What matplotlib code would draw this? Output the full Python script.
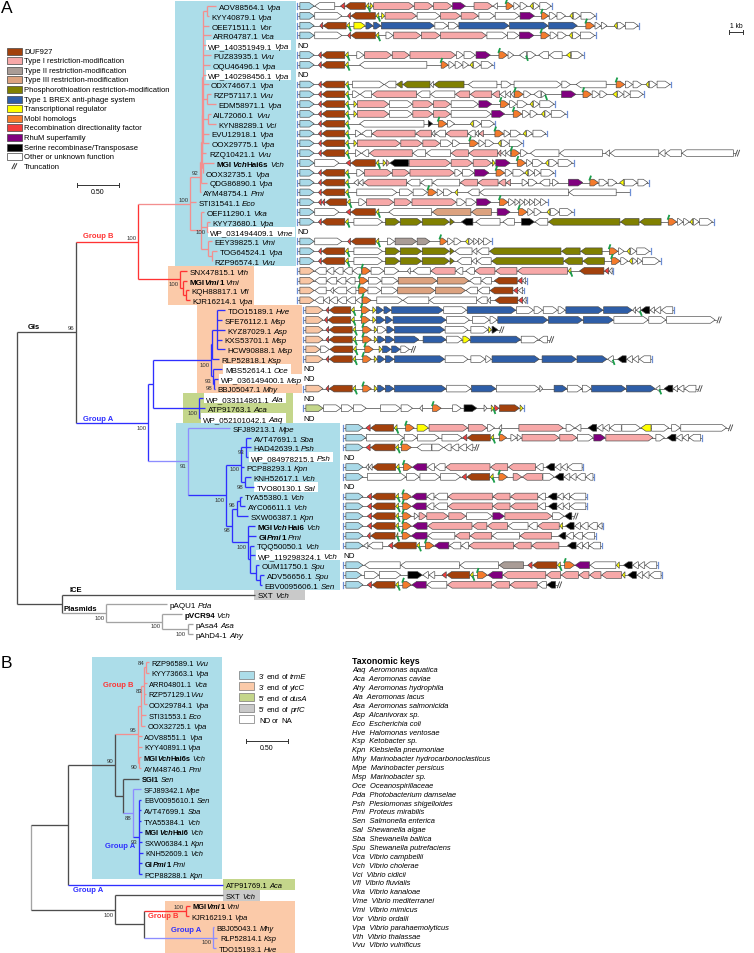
import matplotlib
matplotlib.use("Agg")
import matplotlib.pyplot as plt
from matplotlib.patches import Polygon, Rectangle
from matplotlib.transforms import offset_copy

W, H, DPI = 754, 954, 100
plt.rcParams['font.family'] = ['Liberation Sans', 'DejaVu Sans']

# ---------------------------------------------------------------- data
def N(bl, kids, bs=None, col=None, pos='b'):
    return {'bl': bl, 'kids': kids, 'bs': bs, 'col': col, 'pos': pos}

def L(i, bl, col=None):
    return {'bl': bl, 'leaf': i, 'col': col}

# Panel A tip labels ({} italic, <> bold)
A_LABELS = [
    "AOV88564.1 {Vpa}", "KYY40879.1 {Vpa}", "OEE71511.1 {Vor}", "ARR04787.1 {Vca}",
    "WP_140351949.1 {Vpa}", "PUZ83935.1 {Vvu}", "OQU46496.1 {Vpa}", "WP_140298456.1 {Vpa}",
    "ODX74667.1 {Vpa}", "RZP57117.1 {Vvu}", "EDM58971.1 {Vpa}", "AIL72060.1 {Vvu}",
    "KYN88289.1 {Vci}", "EVU12918.1 {Vpa}", "OOX29775.1 {Vpa}", "RZQ10421.1 {Vvu}",
    "<MGI{Vch}Hai6s> {Vch}", "OOX32735.1 {Vpa}", "QDG86890.1 {Vpa}", "AYM48754.1 {Pmi}",
    "STI31541.1 {Eco}", "OEF11290.1 {Vka}", "KYY73680.1 {Vpa}", "WP_031494409.1 {Vme}",
    "EEY39825.1 {Vmi}", "TOG64524.1 {Vpa}", "RZP96574.1 {Vvu}",
    "SNX47815.1 {Vth}", "<MGI{Vmi}1> {Vmi}", "KQH88817.1 {Vfl}", "KJR16214.1 {Vpa}",
    "TDO15189.1 {Hve}", "SFE76112.1 {Msp}", "KYZ87029.1 {Asp}", "KXS53701.1 {Msp}",
    "HCW90888.1 {Msp}", "RLP52818.1 {Ksp}", "MBS52614.1 {Oce}", "WP_036149400.1 {Msp}",
    "BBJ05047.1 {Mhy}",
    "WP_033114861.1 {Ala}", "ATP91763.1 {Aca}", "WP_052101042.1 {Aaq}",
    "SFJ89213.1 {Mpe}", "AVT47691.1 {Sba}", "HAD42639.1 {Psh}", "WP_084978215.1 {Psh}",
    "PCP88293.1 {Kpn}", "KNH52617.1 {Vch}", "TVO80130.1 {Sal}", "TYA55380.1 {Vch}",
    "AYC06611.1 {Vch}", "SXW06387.1 {Kpn}", "<MGI{Vch}Hai6> {Vch}", "<GI{Pmi}1> {Pmi}",
    "TQQ50050.1 {Vch}", "WP_119298324.1 {Vch}", "OUM11750.1 {Spu}", "ADV56656.1 {Spu}",
    "EBV0095606.1 {Sen}",
    "SXT {Vch}", "pAQU1 {Pda}", "<pVCR94> {Vch}", "pAsa4 {Asa}", "pAhD4-1 {Ahy}",
]

# Gene maps: type, direction, length (x100 bp), ^ = green flag; -n gap; / truncation
A_GENES = [
    "b>10 w<14 -4 r<3 D<14 y<2^ -1 y>2 p>28 p>13 p>13 u>9 -6 p>13 w<3 -6 m>5^ w>4 w>5 -2 y<2 w>4 w>8",
    "b>10 w>19 -4 r<2 D<17 y<2^ -2 y>2 p>22 w>16 p>14 p>12 w>11 w>17 u>10 -5 m>5^ w>5 w>6 -3 y<2 w>5 w>10",
    "b>10 -4 r<2 D<16 y<2^ -3 y>8 B>5 B>5 B>37 w>9 w>7 B>35 B>27 B>20 -6 m>6^ w>4 w>4 -5 y<2 w>5 w>9",
    "b>10 w>19 -4 r<2 D<17 y<2^ -5 w>5 p>19 p>13 p>32 w>14 w>8 u>10 -5 m>6^ w>5 w>6 -2 y<2 w>5 w>10",
    "ND",
    "b>10 -3 r<2 D<16 y<2^ -6 w>5 p>19 p>12 p>32 w>5 w>8 u>10 -6 m>6^ w>4 -4 w<5^ w>6 -2 w<7 w<9 -3 y<3 w>8",
    "b>10 -3 r<2 D<16 y<2^ -8 w<47 -10 m>5^ w>4 w>5 w>4 -1 y<2 w>5 w>8",
    "ND",
    "b>10 -3 r<2 D<16 y<2^ -3 w>22 w<8 o<4 o<19 w<2 o<21 -3 w<20 -3 w>7 -2 w>33 w>6 -4 w<21 -7 m>6^ w>5 w>6 -3 y<2 w>5 w>9",
    "b>10 -3 r<2 D<16 y<2^ -3 w>5 w<8 p<31 w<9 w<17 p<10 p<15 p<5 w<4 w<3 w<2 m>6^ w>5 -2 w<5 w>3^ -11 u>10 -5 m>6^ w>5 w>5 -4 y<3 w>4 w>4 w>9",
    "b>10 -3 r<2 D<16 y<2^ -4 y>2 p>22 w>16 p>14 p>12 w>19 u>9 -6 m>6^ w>5 w>7 -2 y<2 w>4 w>10",
    "b>10 -3 r<2 D<16 y<2^ -4 y>2 p>22 w>16 p>14 p>12 w>28 u>9 -6 m>6^ w>5 w>5 -3 y<2 w>4 w>10",
    "b>10 -3 r<2 D<16 y<2^ -8 w<45 -3 k>3 -4 m>6^ w>5 -11 y<2 w>5 w>9",
    "b>10 -3 r<2 D<16 y<2^ -5 w>4 w<7 p<30 p<11 w<2 w<7 p<15 w<5 w<2 p<3 -8 m>6^ w>4 w>7 -2 y<2 w>4 w>9",
    "b>10 -3 r<2 D<16 y<2^ -4 y>2 p>30 p>15 p>12 w>8 w>5 -7 m>6^ w>4 w>6 -3 y<2 w>5 w>9",
    "b>10 -3 r<2 D<16 y<2^ -5 w>4 w<5 p<30 w<9 w<17 p<12 p<20 p<2 w<3 w<3 m>6^ w>5 -2 w<20 w<30 -2 w<3 w<34 w<4 w<11 w<36 /",
    "b>10 w>17 -5 r<3 D<17 y<2^ -3 y>2 p>2 k<13 p>29 p>15 p>13 y>2 u>10 -5 m>6^ w>4 w>7 -2 y<2 w>6 w>10",
    "b>10 -3 r<2 D<16 y<2^ -6 w>5 p>19 p>12 p>31 w>5 w>8 u>10 -5 m>6^ w>5 w>8 y<2 w>4 w>4 w>9",
    "b>10 -3 r<2 D<16 y<2^ -4 w<3 w<3 p<30 w<9 w<8 w<19 p<12 p<14 p<5 p<3 -8 w>4 w>6 -2 w<7 -2 w>4 -7 u>10 -5 m>6^ w>6 w>6 -2 y<3 w>9 w>7",
    "b>10 -3 r<2 D<16 y<2^ -6 w>28 -2 w>9 w>10 m>6^ w>4 w>6 -2 y<2 -7 w<8 w<62 w<33 -9",
    "b>10 -3 r<2 r<2 D<15 y<2^ -6 w>5 p>19 p>12 p>31 w>6 w>7 u>10 -6 m>6^ w>4 w>3 w>3 w>3 w>3 w>4 w>4",
    "b>10 w>17 -5 r<3 D<17 y<2^ -7 w<30 t<27 t<14 -4 u>9 -6 m>6^ w>4 w>5 -4 y<2 w>6 w>9",
    "b>10 -3 r<2 D<16 y<2^ -4 w>20 -2 o>10 o>15 o>19 o>3 -5 k<8 -2 w<17 -2 w<8 -5 k>9 w<9 o<50 o<13 o<15 -5 m>6^ w>4 w>4 y<2 w>4 w>9",
    "ND",
    "b>10 w>19 -4 r<2 D<17 y<2^ -6 w>5 g>15 g>9 -7 m>5^ w>4 w>5 -3 y<2 w>3 w>3 w>3 w>5",
    "b>10 -3 r<2 D<16 y<2^ -4 w>20 -2 o>10 o>15 o>19 o>3 w<12 w<3 w<8 o<50 o<13 o<15 -5 m>6^ w>4 -2 y<2 w>4 w>9",
    "b>10 -3 r<2 D<16 y<2^ -4 w>20 -2 o>10 o>15 o>19 o>3 -2 w<10 w<3 w<10 o<50 o<13 o<15 -5 m>6^ w>5 -1 y<2 w>3 w>3 w>12",
    "s>10 w<8 w<5 w<6 w<6 w<6 m>6^ w>9 w>10 -6 w<2 -2 w<12 p<17 w<5 -2 w<6 p<14 p<15 p<35 y<2^ -6 D<17 r<3 w<2",
    "s>10 w<8 w<7 w<6 w<6 -3 m>6^ w>9 w>11 t>27 t>22 w<8 w<7 -2 D<16 r<3 w<2",
    "s>10 w<8 -3 w<2 w<9 w<6 -2 m>6^ w>9 w>11 t>26 t>21 w<8 w<8 D<16 r<3 w<3",
    "s>10 w<6 w<4 w<5 w<6 w<6 w<4 m>6^ -4 w>18 w<18 w<33 w<7 w<2 -3 D<16 r<3 w<2",
    "s>12 -2 r<2 D<15 y<2^ -5 m>6^ -2 y>2 B>5 B>5 B>36 w>16 B>34 w>12 w>6 w>10 w>5 B>26 B>20 w<2 w<3^ k<6 w<3 w<4 w<8",
    "s>12 -1 r<2 D<16 y<2^ -5 m>6^ -2 y>2 B>6 B>5 B>37 w>16 -2 w>12 w>5 B>35 B>24 B>21 w>24 w>12 w>34 /",
    "s>12 -2 r<2 D<16 y<2^ -5 m>6^ -2 y>2 w>6 B>5 B>35 w>16 -2 w>12 y>2 k>4 /",
    "s>12 -2 r<2 D<16 y<2^ -5 m>6^ -2 y>2 B>5 B>6 B>17 -3 B>16 w>11 y>5 B>35 w>12 w<6 /",
    "s>10 w>6 D<16 y<2^ -6 m>6^ -4 y>2 B>6 B>6 w>6 /",
    "s>12 -2 r<2 D<16 y<2^ -5 m>6^ -2 y>2 B>5 B>6 B>35 w>16 -2 w>10 w>4 B>33 -2 B>24 B>21 w<4^ -3 k<6 w<4 w<4 w<8",
    "ND",
    "ND",
    "s>12 -2 r<2 D<16 y<2^ -5 m>6^ -2 y>2 B>5 B>6 B>36 w>17 B>17 w>30 w>2 -8 B>9 w>10 w>6 B>24 B>20 w<3^ -3 k<6 w<3 w<4 w<8 /",
    "ND",
    "G>12 w>12 w>8 w>9 -10 w>14 w>8 -5 w<2 -7 m>6^ -8 w>6 -2 k>9 -5 w>2 -3 y>2^ r>3 D>14 y>2",
    "ND",
    "b>12 -2 r<3 D<16 y<2^ -6 m>6^ -2 y>8 p>27 p>13 w>5 -3 w<2 -12 p>31 -2 w>6 w<4 -5 k<6 w<4 w<4 w<8 w>13 y<7 w>12 -2 w>6 w>32 /",
    "b>14 w>26 w>9 w>15 -2 w>14 r<3 D<16 y<2^ -4 m>5^ -3 w>4 w>3 p>26 p>12 w>11 u>8 p>33 -2 w>6 -2 k<6 w<4 w<4 w<8",
    "b>12 -2 r<3 D<17 y<2^ -2 m>7^ -4 w<10 w>8 w<5 w<5 w<5 w<4 /",
    "ND",
    "b>12 -2 w<2 w<2 D<16 y<2^ -3 m>6^ u<10 w<5 w<7 p<31 p<12 p<19 w<5 -2 k<6 w<4 w<4 w<10",
    "b>12 -3 w>27 w>9 w>14 w>14 -1 r<3 D<16 y<2^ -4 m>6^ -4 p>6 p<14 w>8 k<6 w<4 w<4 w<6 w<5",
    "ND",
    "b>12 -3 r<3 D<16 y<2^ -3 m>6^ u<10 w<5 w<9 p<31 p<12 p<19 w<5 -2 k<6 w<4 w<4 w<11",
    "b>12 -3 r<3 D<16 y<2^ -3 m>6^ u<10 w<5 w<9 p<31 p<12 p<19 w<5 -2 k<6 w<4 w<4 w<11",
    "b>12 -3 r<3 D<16 y<2^ -3 m>6^ -2 w>3 p>5 p>15 p>12 w>18 u>8 p>33 w>8 k<5 /",
    "b>12 -3 r<3 D<16 y<2^ -3 m>6^ -1 u<10 p<31 p<10 p<14 w<14 w<6 p<15 y<2 -2 k<6 w<4 w<5 w<6 w<3",
    "b>12 -3 r<2 D<17 -1 y<1^ -3 m>6^ u<11 w<19 p<10 p<15 w<19 p<22 -5 k<5 w<5 w<6 w<8",
    "b>12 w<3 w<10 -4 r<3 D<16 y<2^ -4 m>6^ u<10 w<8 w<5 p<31 p<12 p<19 -6 k<6 w<4 w<4 w<8",
    "ND",
    "b>12 -1 w<25 w<41 w<27 g<17 -3 r<3 D<17 y<2^ -3 m>7^ u<10 w<18 y<2 -3 k<6 w<4 w<4 w<8",
    "b>11 -2 w>10 w>15 -5 k>10 w<4 w<4 -5 r<3 D<16 y<2^ -3 m>7^ u<10 p<30 p<10 p<12 p<7 p<8 p<14 y<2 -2 k<6 w<4 w<4 w<8",
    "b>12 -3 r<3 D<16 y<2^ -3 m>6^ u<10 w<14 p<31 p<12 p<19 w<6 k<6 /",
    "", "", "", "", "",
]

# Phylogeny A (branch lengths in substitutions/site)
TREE_A = N(0, [
    N(0.70, [
        N(0.74, [
            N(0.62, [
                N(0.12, [
                    N(0.01, [
                        N(0.01, [
                            N(0.005, [
                                N(0.005, [
                                    N(0.05, [L(0, 0.11), L(1, 0.02)]),
                                    L(2, 0.08), L(3, 0.095), L(4, 0.035), L(5, 0.095),
                                    L(6, 0.085), L(7, 0.035), L(8, 0.07),
                                    N(0.05, [L(9, 0.05), L(10, 0.11)]),
                                    N(0.06, [L(11, 0.035), L(12, 0.095)]),
                                    L(13, 0.08), L(14, 0.08)]),
                                L(15, 0.05)]),
                            N(0.01, [L(16, 0.14), L(17, 0.01)])]),
                        L(18, 0.07)]),
                    L(19, 0.01)], bs=92, pos='a'),
                L(20, 0.07),
                N(0.13, [L(21, 0.035),
                         N(0.07, [L(22, 0.035), L(23, 0.01)], bs=100),
                         N(0.08, [L(24, 0.05), N(0.05, [L(25, 0.06), L(26, 0.005)])])]),
            ], bs=100, col='R', pos='a'),
            N(0.50, [L(27, 0.08),
                     N(0.035, [L(28, 0.05), N(0.035, [L(29, 0.035), L(30, 0.045)])])], bs=100),
        ], bs=100, col='r', pos='a'),
        N(0.86, [
            N(0.06, [
                N(0.69, [
                    N(0.01, [N(0.06, [L(31, 0.095), L(32, 0.06), L(33, 0.095), L(34, 0.06), L(35, 0.095)]),
                             L(36, 0.085)]),
                    N(0.025, [L(37, 0.11), N(0.01, [L(38, 0.05), L(39, 0.01)], bs=98)], bs=93)], bs=100),
                N(0.55, [L(40, 0.05), L(41, 0.07), L(42, 0.01)], bs=100)]),
            N(0.48, [
                L(43, 0.5),
                N(0.45, [
                    N(0.18, [N(0.06, [L(44, 0.06), L(45, 0.05), L(46, 0.025)], bs=93),
                             L(47, 0.035),
                             N(0.05, [L(48, 0.07), L(49, 0.1)], bs=98)], bs=100),
                    N(0.07, [
                        N(0.06, [N(0.035, [L(50, 0.025), L(51, 0.06)]), L(52, 0.13)], bs=96, pos='a'),
                        N(0.19, [L(53, 0.085), L(54, 0.095),
                                 N(0.025, [L(55, 0.05), L(56, 0.06),
                                           N(0.07, [L(57, 0.035),
                                                    N(0.05, [L(58, 0.05), L(59, 0.025)])])])], bs=100)],
                      bs=98)], bs=100, col='b')], bs=91, col='B'),
        ], bs=100, col='b'),
    ], bs=96, col='k', pos='a'),
    N(0.54, [L(60, 2.29),
             N(0.52, [L(61, 0.73),
                      N(0.67, [L(62, 0.23), N(0.30, [L(63, 0.07), L(64, 0.07)], bs=100)], bs=100)],
               bs=100, col='g')], col='k'),
], col='k')

# Panel B
B_LABELS = [
    "RZP96589.1 {Vvu}", "KYY73663.1 {Vpa}", "ARR04801.1 {Vca}", "RZP57129.1{Vvu}",
    "OOX29784.1 {Vpa}", "STI31553.1 {Eco}", "OOX32725.1 {Vpa}", "AOV88551.1 {Vpa}",
    "KYY40891.1{Vpa}", "<MGI{Vch}Hai6s> {Vch}", "AYM48746.1 {Pmi}", "<SGI1> {Sen}",
    "SFJ89342.1 {Mpe}", "EBV0095610.1 {Sen}", "AVT47699.1 {Sba}", "TYA55384.1 {Vch}",
    "<MGI{Vch}Hai6> {Vch}", "SXW06384.1 {Kpn}", "KNH52609.1 {Vch}", "<GI{Pmi}1> {Pmi}",
    "PCP88288.1 {Kpn}", "ATP91769.1 {Aca}", "SXT {Vch}", "<MGI{Vmi}1> {Vmi}",
    "KJR16219.1 {Vpa}", "BBJ05043.1 {Mhy}", "RLP52814.1 {Ksp}", "TDO15193.1 {Hve}",
]

TREE_B = N(0, [
    N(0.44, [
        N(0.56, [
            N(0.27, [
                N(0.035, [
                    N(0.035, [N(0.025, [L(0, 0.035), L(1, 0.035)], bs=84, pos='a'),
                              L(2, 0.035), L(3, 0.025), L(4, 0.035)], bs=83),
                    L(5, 0.06), L(6, 0.05)]),
                L(7, 0.05), L(8, 0.05),
                N(0.01, [L(9, 0.025), L(10, 0.035)], bs=90)], bs=95, col='R', pos='a'),
            N(0.10, [L(11, 0.19),
                     N(0.11, [L(12, 0.10),
                              N(0.07, [L(13, 0.035), L(14, 0.035), L(15, 0.035), L(16, 0.045),
                                       L(17, 0.045), L(18, 0.055), L(19, 0.045), L(20, 0.045)],
                                bs=93, col='b')], bs=88, col='B')], col='k'),
        ], bs=90, col='k', pos='a'),
        L(21, 1.85, col='b')], col='k'),
    N(1.0, [L(22, 1.29),
            N(0.35, [N(0.49, [L(23, 0.05), L(24, 0.035)], bs=100, col='r', pos='a'),
                     N(0.82, [L(25, 0.01), L(26, 0.05), L(27, 0.035)], bs=100, col='B')], col='k')],
      bs=100, col='k'),
], col='g')

TAXA_ABBR = ["Aaq", "Aca", "Ahy", "Ala", "Asa", "Asp", "Eco", "Hve", "Ksp", "Kpn", "Mhy",
             "Mpe", "Msp", "Oce", "Pda", "Psh", "Pmi", "Sen", "Sal", "Sba", "Spu", "Vca",
             "Vch", "Vci", "Vfl", "Vka", "Vme", "Vmi", "Vor", "Vpa", "Vth", "Vvu"]
TAXA_NAME = ["Aeromonas aquatica", "Aeromonas caviae", "Aeromonas hydrophila", "Aeromonas lacus",
             "Aeromonas salmonicida", "Alcanivorax sp.", "Escherichia coli", "Halomonas ventosae",
             "Ketobacter sp.", "Klebsiella pneumoniae", "Marinobacter hydrocarbonoclasticus",
             "Marinobacter persicus", "Marinobacter sp.", "Oceanospirillaceae",
             "Photobacterium damselae", "Plesiomonas shigelloides", "Proteus mirabilis",
             "Salmonella enterica", "Shewanella algae", "Shewanella baltica",
             "Shewanella putrefaciens", "Vibrio campbellii", "Vibrio cholerae", "Vibrio cidicii",
             "Vibrio fluvialis", "Vibrio kanaloae", "Vibrio mediterranei", "Vibrio mimicus",
             "Vibrio ordalii", "Vibrio parahaemolyticus", "Vibrio thalassae", "Vibrio vulnificus"]

LEGEND_A_KEYS = ['D', 'p', 'g', 't', 'o', 'B', 'y', 'm', 'r', 'u', 'k', 'w']
LEGEND_A_TEXT = ["DUF927", "Type I restriction-modification", "Type II restriction-modification",
                 "Type III restriction-modification", "Phosphorothioation restriction-modification",
                 "Type 1 BREX anti-phage system", "Transcriptional regulator", "MobI homologs",
                 "Recombination directionality factor", "RhuM superfamily",
                 "Serine recombinase/Transposase", "Other or unknown function"]
LEGEND_B_KEYS = ['blue', 'orange', 'green', 'grey', 'w']
LEGEND_B_TEXT = ["3' end of {trmE}", "3' end of {yicC}", "5' end of {dusA}", "5' end of {prfC}",
                 "ND or NA"]

# ---------------------------------------------------------------- style
GENE_COL = {'b': '#a9d9e8', 's': '#f9c6a4', 'G': '#c3d68a', 'D': '#a3410c', 'p': '#f7a8a8',
            'g': '#a99c96', 't': '#dca27f', 'o': '#808000', 'B': '#2e5ea8', 'y': '#ffff00',
            'm': '#f47b2c', 'r': '#f23c3c', 'u': '#80007f', 'k': '#000000', 'w': '#ffffff'}
BOXC = {'blue': '#acdde9', 'orange': '#fbcaa9', 'green': '#c4d68b', 'grey': '#c9c9c9', 'w': '#ffffff'}
LCOL = {'k': '#4d4d4d', 'g': '#a3a3a3', 'r': '#ff3333', 'R': '#f38f8f', 'b': '#2f2fff', 'B': '#8d8dff'}

KB_PX = 14.3      # pixels per kb
TREE_PX = 84      # pixels per substitution unit
A_Y0, A_ROW = 7.0, 9.81
B_Y0, B_ROW = 663.0, 10.6
FS_A, FS_B = 5.8, 5.4

fig = plt.figure(figsize=(W / DPI, H / DPI), dpi=DPI)
lay = fig.add_axes([0, 0, 1, 1])
lay.set_xlim(0, W); lay.set_ylim(H, 0); lay.axis('off')
R = fig.canvas.get_renderer()


def overlay(x0, sx, y0, sy):
    a = fig.add_axes([0, 0, 1, 1], facecolor='none')
    a.set_xlim(-x0 / sx, (W - x0) / sx)
    a.set_ylim((H - y0) / sy, -y0 / sy)
    a.axis('off')
    return a


axTA = overlay(17, TREE_PX, A_Y0, A_ROW)
axG = overlay(0, KB_PX, A_Y0, A_ROW)
axTB = overlay(31, TREE_PX, B_Y0, B_ROW)


def parse(s):
    segs, cur = [], ''
    b = i = False
    for ch in s:
        if ch in '<>{} ':
            if cur:
                segs.append((cur, 'bold' if b else 'normal', 'italic' if i else 'normal'))
                cur = ''
            if ch == '<': b = True
            elif ch == '>': b = False
            elif ch == '{': i = True
            elif ch == '}': i = False
            else: segs.append(' ')
        else:
            cur += ch
    if cur:
        segs.append((cur, 'bold' if b else 'normal', 'italic' if i else 'normal'))
    return segs


def rich(ax, x, y, s, size, color='black', dx0=0.0):
    dx = dx0
    base = -0.36 * size * DPI / 72
    for seg in parse(s):
        if seg == ' ':
            dx += 0.24 * size * DPI / 72
            continue
        txt, wt, st = seg
        t = ax.text(x, y, txt, transform=offset_copy(ax.transData, fig=fig, x=dx, y=base, units='dots'),
                    fontsize=size, fontweight=wt, fontstyle=st, color=color, va='baseline', ha='left')
        dx += t.get_window_extent(renderer=R).width
    return dx - dx0


# ---------------------------------------------------------------- boxes
def row_box(x0, x1, r0, r1, y0, rs, col):
    lay.add_patch(Rectangle((x0, y0 + (r0 - 0.5) * rs), x1 - x0, (r1 - r0 + 1) * rs,
                            facecolor=BOXC[col], edgecolor='none', zorder=1))

for x0, x1, r0, r1, c in [(175, 296, 0, 26, 'blue'), (168, 254, 27, 30, 'orange'),
                          (197, 302, 31, 39, 'orange'), (183, 293, 40, 42, 'green'),
                          (176, 340, 43, 59, 'blue'), (254, 305, 60, 60, 'grey')]:
    row_box(x0, x1, r0, r1, A_Y0, A_ROW, c)
for x0, x1, r0, r1, c in [(92, 222, 0, 20, 'blue'), (223, 295, 21, 21, 'green'),
                          (223, 260, 22, 22, 'grey'), (165, 295, 23, 27, 'orange')]:
    row_box(x0, x1, r0, r1, B_Y0, B_ROW, c)


# ---------------------------------------------------------------- trees
def layout(node, px):
    node['x'] = px + node['bl']
    if 'leaf' in node:
        node['y'] = node['leaf']
        return
    for k in node['kids']:
        layout(k, node['x'])
    node['y'] = (node['kids'][0]['y'] + node['kids'][-1]['y']) / 2


def draw_tree(ax, node, px, pcol, labels, fs, nd_rows, root=False):
    col = node.get('col') or pcol
    lw = 0.95
    if not root:
        ax.plot([px, node['x']], [node['y'], node['y']], color=LCOL[col], lw=lw,
                solid_capstyle='butt', zorder=3)
    if 'leaf' in node:
        i = node['leaf']
        w = rich(ax, node['x'], node['y'], labels[i], fs, dx0=2.5)
        if i in nd_rows:
            dx, dy = ax.transData.transform((node['x'], node['y']))
            lay.add_patch(Rectangle((dx + 0.5, H - dy - 5), w + 4.5, 10, facecolor='white',
                                    edgecolor='none', zorder=2))
        return
    kids = node['kids']
    ax.plot([node['x'], node['x']], [kids[0]['y'], kids[-1]['y']], color=LCOL[col], lw=lw,
            solid_capstyle='butt', zorder=3)
    for k in kids:
        draw_tree(ax, k, node['x'], col, labels, fs, nd_rows)
    if node.get('bs') is not None:
        dy = 4.3 if node['pos'] == 'a' else -4.3
        ax.text(node['x'], node['y'], str(node['bs']),
                transform=offset_copy(ax.transData, fig=fig, x=-1.5, y=dy, units='dots'),
                fontsize=4.3, ha='right', va='center', color='#333333')


ND_A = {i for i, g in enumerate(A_GENES) if g == 'ND'}
layout(TREE_A, 0)
draw_tree(axTA, TREE_A, 0, 'k', A_LABELS, FS_A, ND_A, root=True)
layout(TREE_B, 0)
draw_tree(axTB, TREE_B, 0, 'k', B_LABELS, FS_B, set(), root=True)


# ---------------------------------------------------------------- gene maps
def gene_start(r):
    if r <= 30: return 297
    if r <= 42: return 303
    return 343

H_ARR = 0.68   # arrow height (rows)
HEAD = 0.33    # arrow head length (kb)
GAP = 0.04
FLAG = '#1b9e4b'

for r, spec in enumerate(A_GENES):
    if not spec:
        continue
    xs = gene_start(r) / KB_PX
    if spec == 'ND':
        axG.text(xs, r, 'ND', fontsize=FS_A, va='center', ha='left')
        continue
    toks = spec.split()
    genes, x = [], xs + 0.2
    trunc = False
    prev_gene = False
    for t in toks:
        if t == '/':
            trunc = True
        elif t[0] == '-':
            x += float(t[1:]) / 10
            prev_gene = False
        else:
            flag = t.endswith('^')
            n = float(t[2:].rstrip('^')) / 10
            if prev_gene:
                x += GAP
            genes.append((t[0], t[1], x, x + n, flag))
            x += n
            prev_gene = True
    xe = x + 0.08
    axG.plot([xs, xe], [r, r], color='#555555', lw=0.55, zorder=2)
    axG.plot([xs, xs], [r - 0.3, r + 0.3], color='#6d8fd6', lw=0.9, zorder=2)
    if trunc:
        for o in (0.0, 0.15):
            axG.plot([xe + 0.05 + o, xe + 0.2 + o], [r + 0.3, r - 0.3], color='#444444', lw=0.6)
    else:
        axG.plot([xe, xe], [r - 0.3, r + 0.3], color='#6d8fd6', lw=0.9, zorder=2)
    for typ, d, x0, x1, flag in genes:
        ln = x1 - x0
        hd = min(ln, HEAD)
        h = H_ARR / 2
        if d == '>':
            pts = [(x0, r - h), (x1 - hd, r - h), (x1, r), (x1 - hd, r + h), (x0, r + h)]
        else:
            pts = [(x1, r - h), (x0 + hd, r - h), (x0, r), (x0 + hd, r + h), (x1, r + h)]
        axG.add_patch(Polygon(pts, closed=True, facecolor=GENE_COL[typ], edgecolor='#454545',
                              lw=0.45, zorder=3))
        if flag:
            if typ == 'm':
                axG.plot([x0 - 0.02, x0 + 0.06], [r - 0.3, r - 0.62], color=FLAG, lw=1.3, zorder=4)
            else:
                axG.plot([x1 - 0.02, x1 + 0.07], [r + 0.15, r + 0.5], color=FLAG, lw=1.3, zorder=4)

# ---------------------------------------------------------------- annotations
lay.text(1, 1, 'A', fontsize=12.5, va='top', ha='left')
lay.text(1, 656, 'B', fontsize=12.5, va='top', ha='left')

for i, (k, txt) in enumerate(zip(LEGEND_A_KEYS, LEGEND_A_TEXT)):
    y = 52 + i * 9.6
    lay.add_patch(Rectangle((7, y - 3.5), 15, 7, facecolor=GENE_COL[k], edgecolor='#454545',
                            lw=0.5, zorder=3))
    lay.text(24, y, txt, fontsize=5.5, va='center', ha='left')
yt = 52 + 12 * 9.6
for o in (0, 2.2):
    lay.plot([12 + o, 14.5 + o], [yt + 2.5, yt - 2.5], color='#333333', lw=0.7)
lay.text(24, yt, 'Truncation', fontsize=5.5, va='center', ha='left')

# tree scale bars
for xb, yb in [(77, 186), (246, 742)]:
    xe = xb + 0.5 * TREE_PX
    lay.plot([xb, xe], [yb, yb], color='#333333', lw=0.7)
    for xx in (xb, xe):
        lay.plot([xx, xx], [yb - 2, yb + 2], color='#333333', lw=0.7)
    lay.text((xb + xe) / 2, yb + 7, '0.50', fontsize=5, ha='center', va='center')
# 1 kb bar
lay.plot([729, 729 + KB_PX], [33, 33], color='#333333', lw=0.7)
for xx in (729, 729 + KB_PX):
    lay.plot([xx, xx], [31, 35], color='#333333', lw=0.7)
lay.text(729 + KB_PX / 2, 27, '1 kb', fontsize=4.8, ha='center', va='center')

# group labels
grp = [(83, 236, 'Group B', LCOL['r']), (83, 420, 'Group A', LCOL['b']), (28, 328, 'GIs', 'black'),
       (70, 591, 'ICE', 'black'), (63, 610, 'Plasmids', 'black'),
       (103, 686, 'Group B', LCOL['r']), (105, 847, 'Group A', LCOL['b']),
       (73, 891, 'Group A', LCOL['b']), (148, 917, 'Group B', LCOL['r']),
       (171, 931, 'Group A', LCOL['b'])]
for x, y, t, c in grp:
    lay.text(x, y, t, fontsize=5.5, fontweight='bold', color=c, va='center', ha='left')

# legend B
for i, (k, txt) in enumerate(zip(LEGEND_B_KEYS, LEGEND_B_TEXT)):
    y = 676 + i * 11
    lay.add_patch(Rectangle((239, y - 3.7), 15, 7.4, facecolor=BOXC[k], edgecolor='#777777',
                            lw=0.5, zorder=3))
    rich(lay, 259, y, txt, 5.6)

# taxonomic keys
lay.text(352, 662, 'Taxonomic keys', fontsize=6.3, fontweight='bold', va='center', ha='left')
for i, (a, n) in enumerate(zip(TAXA_ABBR, TAXA_NAME)):
    lay.text(352, 671 + i * 8.87, a + '  ' + n, fontsize=5.4, fontstyle='italic',
             va='center', ha='left')

fig.savefig('out.png', dpi=DPI)
